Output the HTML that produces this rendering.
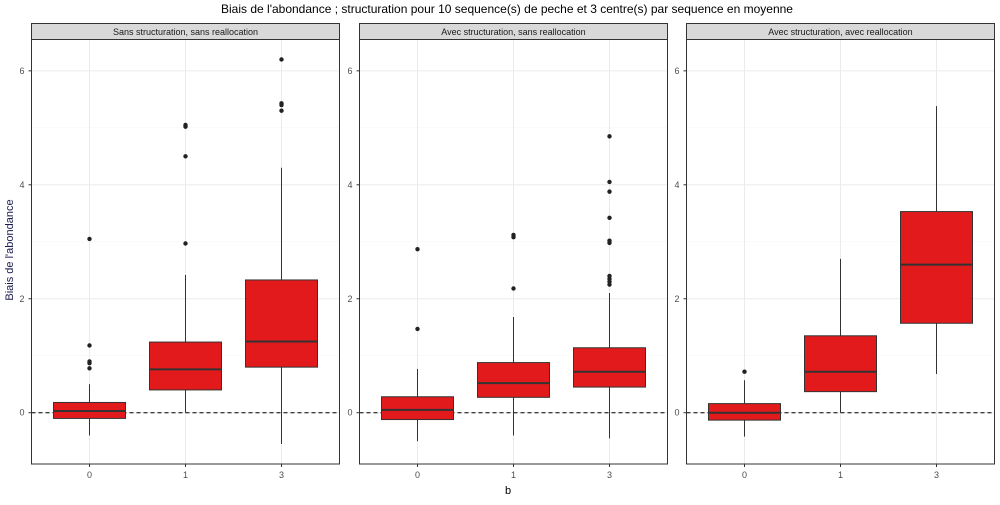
<!DOCTYPE html>
<html><head><meta charset="utf-8"><style>
body{margin:0;background:#fff;}
svg{font-family:"Liberation Sans",sans-serif;}
</style></head><body>
<svg id="c" width="1000" height="500" xmlns="http://www.w3.org/2000/svg">
<text x="507" y="13" text-anchor="middle" font-size="12" fill="#000">Biais de l'abondance ; structuration pour 10 sequence(s) de peche et 3 centre(s) par sequence en moyenne</text>
<text x="508" y="494" text-anchor="middle" font-size="11" fill="#000">b</text>
<text transform="translate(13,250) rotate(-90)" text-anchor="middle" font-size="11" fill="#1a1a4d">Biais de l'abondance</text>
</svg>
<script>
const panels = ["Sans structuration, sans reallocation","Avec structuration, sans reallocation","Avec structuration, avec reallocation"];
const categories = ["0","1","3"];
const yTicks = [0,2,4,6];
// [low, q1, median, q3, high] per panel per category
const stats = [
 [[-0.4,-0.1,0.03,0.18,0.5],[0.0,0.4,0.76,1.24,2.42],[-0.55,0.8,1.25,2.33,4.3]],
 [[-0.5,-0.12,0.05,0.28,0.77],[-0.4,0.27,0.52,0.88,1.68],[-0.45,0.45,0.72,1.14,2.1]],
 [[-0.42,-0.13,0.0,0.16,0.57],[0.0,0.37,0.72,1.35,2.7],[0.68,1.57,2.6,3.53,5.38]]
];
const outliers = [
 [[0.78,0.87,0.9,1.18,3.05],[2.97,4.5,5.02,5.05],[5.3,5.4,5.43,6.2]],
 [[1.47,2.87],[2.18,3.08,3.12],[2.25,2.3,2.35,2.4,2.98,3.02,3.42,3.88,4.05,4.85]],
 [[0.72],[],[]]
];
const NS="http://www.w3.org/2000/svg";
const svg=document.getElementById('c');
function mk(t,a,p){const e=document.createElementNS(NS,t);for(const k in a)e.setAttribute(k,a[k]);(p||svg).appendChild(e);return e;}
const yTop=39.5,yBot=464,yMin=-0.9,yMax=6.55;
function y(v){return yTop+(yMax-v)/(yMax-yMin)*(yBot-yTop);}
const lefts=[31.5,359.5,686.5],pw=308,catStep=96;
panels.forEach((name,p)=>{
 const L=lefts[p];
 const g=mk('g',{});
 
 
 function x(i){return L+pw/2+(i-(categories.length-1)/2)*catStep;}
 for(let v=-0.5;v<=6.5;v+=0.5){ if(v<yMin)continue; const major=Math.abs(v%2)<1e-9; const minor=Math.abs(v%1)<1e-9;
   if(!minor) continue;
   mk('line',{x1:L,x2:L+pw,y1:y(v),y2:y(v),stroke:major?'#ebebeb':'#f5f5f5','stroke-width':major?1:0.6},g);}
 categories.forEach((c,i)=>mk('line',{x1:x(i),x2:x(i),y1:yTop,y2:yBot,stroke:'#ebebeb'},g));
 const z=mk('line',{x1:L,x2:L+pw,y1:y(0),y2:y(0),stroke:'#000','stroke-dasharray':'4,3'},g);
 
 
 categories.forEach((c,i)=>{
  const s=stats[p][i],cx=x(i),hw=36;
  const bg=mk('g',{},g);
  
  
  mk('line',{x1:cx,x2:cx,y1:y(s[0]),y2:y(s[1]),stroke:'#333'},bg);
  mk('line',{x1:cx,x2:cx,y1:y(s[3]),y2:y(s[4]),stroke:'#333'},bg);
  mk('rect',{x:cx-hw,y:y(s[3]),width:2*hw,height:y(s[1])-y(s[3]),fill:'#e31a1c',stroke:'#333'},bg);
  mk('line',{x1:cx-hw,x2:cx+hw,y1:y(s[2]),y2:y(s[2]),stroke:'#333','stroke-width':2},bg);
  outliers[p][i].forEach(o=>{const d=mk('circle',{cx:cx,cy:y(o),r:2.2,fill:'#222'},bg);
   
   });
  const t=mk('text',{x:cx,y:yBot+14,'text-anchor':'middle','font-size':9,fill:'#4d4d4d'},g);t.textContent=c;
  
  
  mk('line',{x1:cx,x2:cx,y1:yBot,y2:yBot+3,stroke:'#333'},g);
 });
 yTicks.forEach(v=>{const t=mk('text',{x:L-7,y:y(v)+3,'text-anchor':'end','font-size':9,fill:'#4d4d4d'},g);t.textContent=v;
  
  
  mk('line',{x1:L-3,x2:L,y1:y(v),y2:y(v),stroke:'#333'},g);});
 mk('rect',{x:L,y:yTop,width:pw,height:yBot-yTop,fill:'none',stroke:'#333'},g);
 const sr=mk('rect',{x:L,y:23.5,width:pw,height:16,fill:'#d9d9d9',stroke:'#333'},g);
 
 
 const st=mk('text',{x:L+pw/2,y:35,'text-anchor':'middle','font-size':9,fill:'#1a1a1a'},g);st.textContent=name;
 
 
});
</script>
</body></html>
